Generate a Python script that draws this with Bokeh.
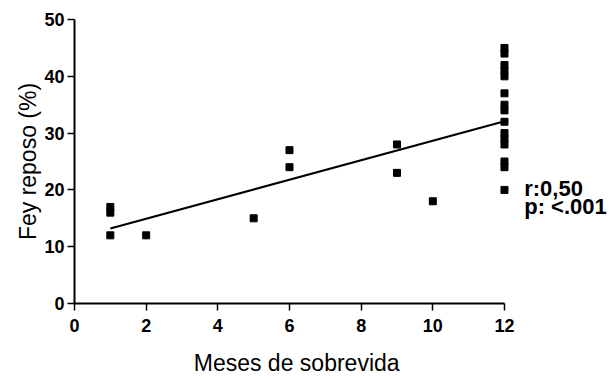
from bokeh.plotting import figure
from bokeh.models import Range1d, FixedTicker, Label
from bokeh.embed import file_html
from bokeh.resources import INLINE

# Data
months = [1, 1, 1, 2, 5, 6, 6, 9, 9, 10,
          12, 12, 12, 12, 12, 12, 12, 12, 12, 12, 12, 12, 12, 12, 12]
fey = [17, 16, 12, 12, 15, 27, 24, 28, 23, 18,
       45, 44, 42, 41, 40, 37, 35, 34, 32, 30, 29, 28, 25, 24, 20]
fit_x = [1, 12]
fit_y = [13.2, 32.1]
x_ticks = [0, 2, 4, 6, 8, 10, 12]
y_ticks = [0, 10, 20, 30, 40, 50]
stats_text = ["r:0,50", "p: <.001"]
x_title = "Meses de sobrevida"
y_title = "Fey reposo (%)"

FONT = "Liberation Sans"

# The frame covers the whole canvas; axes are pinned at x=0 / y=0
p = figure(width=607, height=377, output_backend="svg", toolbar_location=None,
           x_range=Range1d(-2.065, 14.875), y_range=Range1d(-13.03, 53.35),
           min_border_left=0, min_border_right=0, min_border_top=0,
           min_border_bottom=0)

p.outline_line_color = None
p.xgrid.grid_line_color = None
p.ygrid.grid_line_color = None
p.background_fill_color = "white"
p.border_fill_color = "white"

p.line(fit_x, fit_y, line_color="black", line_width=2)
p.scatter(months, fey, marker="square", size=7, fill_color="black",
          line_color="black")

for ax, ticks, bnd in ((p.xaxis[0], x_ticks, (0, 12)), (p.yaxis[0], y_ticks, (0, 50))):
    ax.ticker = FixedTicker(ticks=ticks)
    ax.bounds = bnd
    ax.fixed_location = 0
    ax.axis_line_width = 2
    ax.axis_line_color = "black"
    ax.major_tick_line_width = 1.5
    ax.major_tick_line_color = "black"
    ax.major_tick_in = 0
    ax.major_tick_out = 7
    ax.minor_tick_line_color = None
    ax.major_label_text_font = FONT
    ax.major_label_text_font_style = "bold"
    ax.major_label_text_font_size = "18px"
    ax.major_label_text_color = "black"
    ax.axis_label_text_font = FONT
    ax.axis_label_text_font_style = "normal"
    ax.axis_label_text_font_size = "23px"
    ax.axis_label_text_color = "black"

p.yaxis.axis_label = y_title
p.xaxis.major_label_standoff = 9
p.yaxis.major_label_standoff = 3
p.yaxis.axis_label_standoff = 0

# x-axis title placed as a label below the tick labels
p.add_layout(Label(x=6.2, y=-8.1, text=x_title, text_font=FONT,
                   text_font_size="23px", text_align="center",
                   text_baseline="top", text_color="black"))

for txt, yy in zip(stats_text, [20.2, 17.0]):
    p.add_layout(Label(x=12.55, y=yy, text=txt, text_font=FONT,
                       text_font_style="bold", text_font_size="22px",
                       text_baseline="middle", text_align="left",
                       text_color="black"))

open("out.html", "w").write(file_html(p, INLINE))
